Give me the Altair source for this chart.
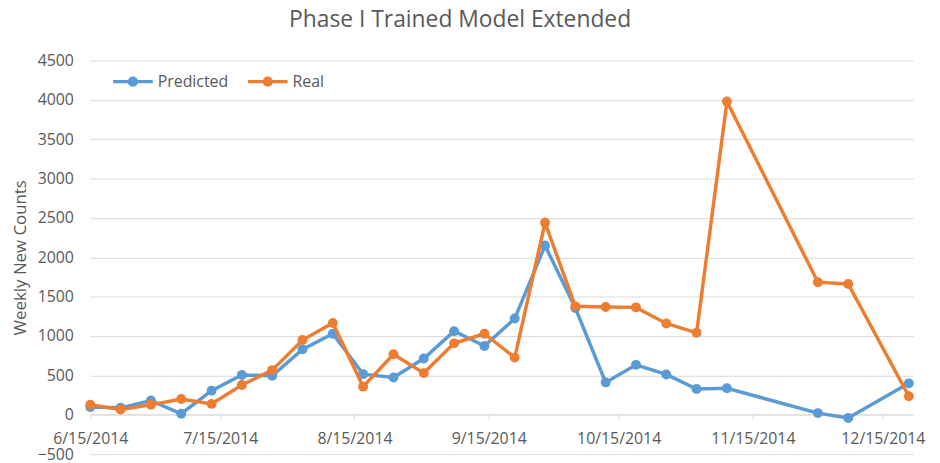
import altair as alt
import pandas as pd

# ---- data ----
dates = ["2014-06-15", "2014-06-22", "2014-06-29", "2014-07-06", "2014-07-13",
         "2014-07-20", "2014-07-27", "2014-08-03", "2014-08-10", "2014-08-17",
         "2014-08-24", "2014-08-31", "2014-09-07", "2014-09-14", "2014-09-21",
         "2014-09-28", "2014-10-05", "2014-10-12", "2014-10-19", "2014-10-26",
         "2014-11-02", "2014-11-09", "2014-11-30", "2014-12-07", "2014-12-21"]
predicted = [97, 88, 180, 13, 306, 504, 495, 831, 1028, 516, 474, 714, 1062, 873,
             1222, 2150, 1356, 411, 634, 512, 327, 336, 21, -42, 399]
real = [126, 67, 126, 201, 138, 378, 567, 949, 1167, 357, 768, 529, 907, 1029,
        726, 2439, 1377, 1369, 1364, 1159, 1041, 3980, 1684, 1662, 235]
series_names = ["Predicted", "Real"]
series_colors = ["#5B9BD5", "#ED7D31"]
y_ticks = list(range(-500, 5000, 500))
x_tick_months = [6, 7, 8, 9, 10, 11, 12]

df = pd.DataFrame({
    "date": dates * 2,
    "value": predicted + real,
    "series": [series_names[0]] * len(dates) + [series_names[1]] * len(dates),
})

TEXT = "#595959"
GRID = "#D9D9D9"
FONT = "Open Sans"

legend_symbol = ("M-1,0L1,0"
                 "M-0.17,0a0.17,0.17 0 1,0 0.34,0a0.17,0.17 0 1,0 -0.34,0"
                 "M-0.07,0a0.07,0.07 0 1,0 0.14,0a0.07,0.07 0 1,0 -0.14,0")

x_enc = alt.X(
    "date:T",
    scale=alt.Scale(type="utc", domain=[alt.DateTime(year=2014, month=6, date=15, utc=True),
                                        alt.DateTime(year=2014, month=12, date=22, utc=True)]),
    axis=alt.Axis(
        title=None,
        values=[alt.DateTime(year=2014, month=m, date=15, utc=True) for m in x_tick_months],
        format="%-m/%-d/%Y",
        grid=False,
        domain=True, domainColor=GRID, domainWidth=1,
        ticks=True, tickColor=GRID, tickSize=5,
        offset=-40,
        labelFontSize=16, labelColor=TEXT, labelFont=FONT,
        labelPadding=11, labelFlush=False, labelOverlap=False,
    ),
)
y_enc = alt.Y(
    "value:Q",
    scale=alt.Scale(domain=[-500, 4500], nice=False, zero=False),
    axis=alt.Axis(
        title="Weekly New Counts",
        values=y_ticks,
        format="d",
        grid=True, gridColor=GRID, gridWidth=1,
        domain=False, ticks=False,
        labelFontSize=16, labelColor=TEXT, labelFont=FONT, labelPadding=17,
        titleFontSize=17, titleColor=TEXT, titleFont=FONT, titleFontWeight="normal",
        titlePadding=8,
    ),
)

layers = []
for i, s in enumerate(series_names):
    legend = None
    if i == 0:
        legend = alt.Legend(
            orient="none", legendX=21, legendY=-1, direction="horizontal", title=None,
            symbolType=legend_symbol, symbolSize=1600, symbolStrokeWidth=3.5,
            labelFontSize=16, labelColor=TEXT, labelFont=FONT, labelOffset=3,
            columnPadding=12,
        )
    color = alt.Color("series:N", scale=alt.Scale(domain=series_names, range=series_colors),
                      legend=legend)
    base = alt.Chart(df).transform_filter(alt.datum.series == s)
    layers.append(base.mark_line(strokeWidth=3.5).encode(x=x_enc, y=y_enc, color=color))
    layers.append(base.mark_point(filled=True, size=100, opacity=1).encode(
        x=x_enc, y=y_enc, color=alt.Color("series:N", scale=alt.Scale(domain=series_names, range=series_colors), legend=None)))

chart = alt.layer(*layers).properties(
    width=830, height=397,
    padding={"left": 83, "top": 51, "right": 19, "bottom": 7},
    autosize="none",
    title=alt.TitleParams(
        "Phase I Trained Model Extended", fontSize=23, font=FONT, color=TEXT,
        fontWeight="normal", anchor="middle", frame="group", dx=-42, offset=21,
    ),
).configure_view(stroke=None)

chart.save("out.html", embed_options={"renderer": "svg", "actions": False})
